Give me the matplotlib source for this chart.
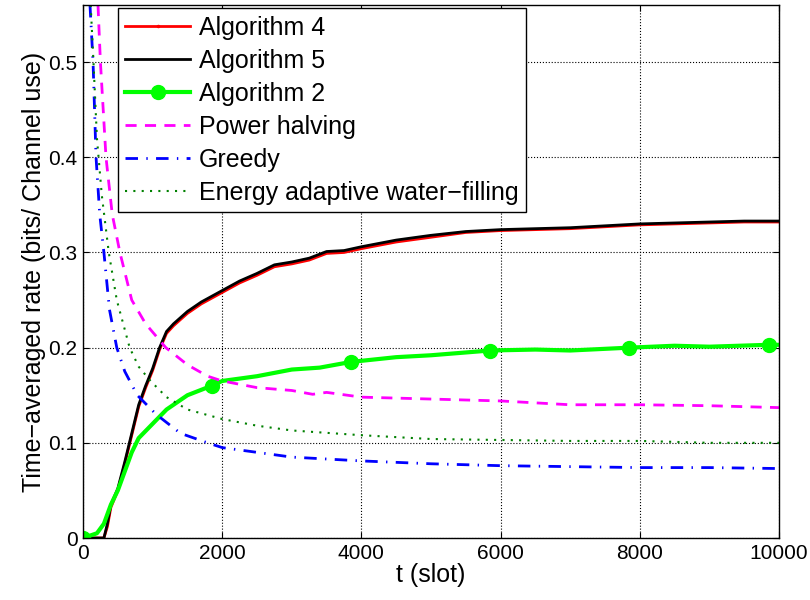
import matplotlib
matplotlib.use('Agg')
import matplotlib.pyplot as plt

plt.rcParams['font.family'] = ['Liberation Sans', 'DejaVu Sans']

# Algorithm 4 / 5
t_alg = [0, 300, 350, 400, 500, 600, 700, 800, 900, 1000, 1100, 1200, 1300, 1500, 1700,
         2000, 2250, 2500, 2750, 3000, 3250, 3500, 3750, 4000, 4500, 5000, 5500, 6000,
         6500, 7000, 7500, 8000, 8500, 9000, 9500, 10000]
alg5 = [0, 0, 0.015, 0.035, 0.052, 0.08, 0.11, 0.14, 0.16, 0.178, 0.2, 0.217, 0.225, 0.238,
        0.248, 0.26, 0.27, 0.278, 0.287, 0.29, 0.294, 0.301, 0.302, 0.306, 0.313, 0.318,
        0.322, 0.324, 0.325, 0.326, 0.328, 0.33, 0.331, 0.332, 0.333, 0.333]
alg4 = [0, 0, 0.012, 0.032, 0.05, 0.078, 0.108, 0.138, 0.158, 0.176, 0.198, 0.215, 0.223,
        0.236, 0.246, 0.258, 0.268, 0.276, 0.285, 0.288, 0.292, 0.299, 0.3, 0.304, 0.311,
        0.316, 0.321, 0.323, 0.324, 0.325, 0.327, 0.329, 0.33, 0.331, 0.332, 0.332]

# Algorithm 2
t_a2 = [0, 200, 300, 400, 500, 600, 700, 800, 1000, 1200, 1500, 1850, 2000, 2500, 3000,
        3400, 3850, 4500, 5000, 5850, 6500, 7000, 7850, 8500, 9000, 9850, 10000]
alg2 = [0, 0.005, 0.015, 0.035, 0.05, 0.07, 0.09, 0.105, 0.12, 0.135, 0.15, 0.16, 0.165,
        0.17, 0.177, 0.179, 0.185, 0.19, 0.192, 0.197, 0.198, 0.197, 0.2, 0.202, 0.201,
        0.203, 0.203]
alg2_marks = [0, 11, 16, 19, 22, 25]

# Power halving
t_ph = [215, 250, 330, 420, 530, 700, 900, 1190, 1500, 1790, 2000, 2500, 3000, 3300, 3500,
        4000, 5000, 6000, 6500, 7000, 8000, 9000, 10000]
ph = [0.56, 0.5, 0.4, 0.34, 0.3, 0.25, 0.225, 0.2, 0.182, 0.17, 0.165, 0.158, 0.155, 0.151,
      0.153, 0.148, 0.146, 0.144, 0.142, 0.14, 0.14, 0.139, 0.137]

# Greedy
t_gr = [100, 144, 187, 240, 300, 380, 485, 600, 780, 1050, 1400, 1790, 2000, 2500, 3000,
        4000, 5000, 6000, 7000, 8000, 9000, 10000]
gr = [0.56, 0.5, 0.4, 0.34, 0.3, 0.24, 0.2, 0.175, 0.15, 0.13, 0.11, 0.1, 0.095, 0.09,
      0.085, 0.081, 0.078, 0.076, 0.075, 0.074, 0.074, 0.073]

# Energy adaptive water-filling
t_wf = [110, 150, 200, 270, 370, 485, 670, 800, 970, 1200, 1500, 2000, 2500, 3000, 4000,
        5000, 6000, 7000, 8000, 9000, 10000]
wf = [0.56, 0.5, 0.42, 0.36, 0.3, 0.25, 0.2, 0.18, 0.165, 0.148, 0.135, 0.125, 0.118,
      0.113, 0.108, 0.104, 0.103, 0.102, 0.102, 0.1, 0.1]

fig = plt.figure(figsize=(8.1, 6), dpi=100)
ax = fig.add_axes([0.1025, 0.1033, 0.8592, 0.8884])

ax.plot(t_alg, alg4, color='red', lw=2, marker='.', markersize=3, markevery=[], label='Algorithm 4')
ax.plot(t_alg, alg5, color='black', lw=2, label='Algorithm 5')
ax.plot(t_a2, alg2, color='#00ff00', lw=3, marker='o', markersize=10, markevery=alg2_marks,
        label='Algorithm 2')
ax.plot(t_ph, ph, color='magenta', lw=2, ls=(0, (4, 3)), label='Power halving')
ax.plot(t_gr, gr, color='blue', lw=2, ls=(0, (4.5, 3, 0.5, 3)), label='Greedy')
ax.plot(t_wf, wf, color='#008000', lw=1.5, ls=(0, (1, 3)), label='Energy adaptive water\u2212filling')

ax.set_xlim(0, 10000)
ax.set_ylim(0, 0.56)
ax.set_xticks(range(0, 10001, 2000))
ax.set_yticks([0, 0.1, 0.2, 0.3, 0.4, 0.5])
ax.set_yticklabels(['0', '0.1', '0.2', '0.3', '0.4', '0.5'])
ax.tick_params(direction='in', labelsize=15, top=True, right=True, length=4, pad=4)
ax.grid(True, color='black', ls=':', lw=0.8)
for s in ax.spines.values():
    s.set_linewidth(1)

ax.set_xlabel('t (slot)', fontsize=18, labelpad=0)
ax.set_ylabel('Time\u2212averaged rate (bits/ Channel use)', fontsize=18, labelpad=2)

leg = ax.legend(loc='upper left', bbox_to_anchor=(0.05, 0.994), fontsize=18, fancybox=False,
                framealpha=1, edgecolor='black', handlelength=2.6, handletextpad=0.35,
                borderpad=0.3, borderaxespad=0, labelspacing=0.36)
leg.get_frame().set_linewidth(1)

fig.savefig('out.png', dpi=100)
